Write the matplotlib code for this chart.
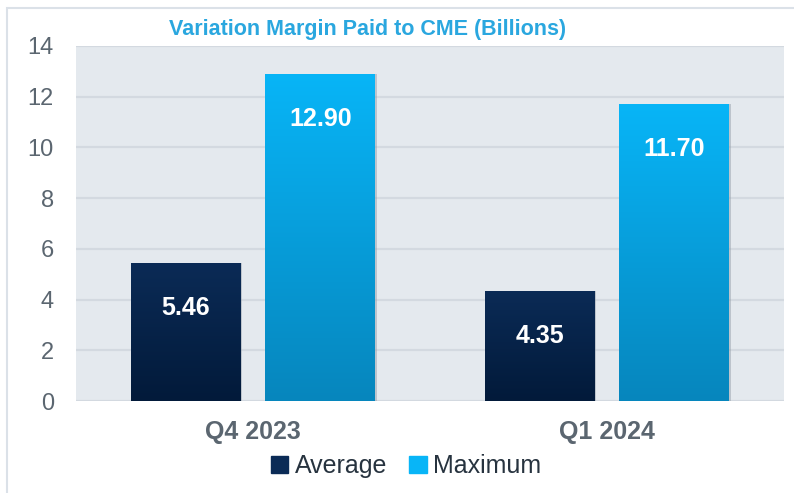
import matplotlib.pyplot as plt
import numpy as np
from matplotlib.colors import LinearSegmentedColormap
from matplotlib.patches import Rectangle

plt.rcParams["font.family"] = ["Liberation Sans", "DejaVu Sans"]

quarters = ["Q4 2023", "Q1 2024"]
series_names = ["Average", "Maximum"]
average = [5.46, 4.35]
maximum = [12.90, 11.70]
y_ticks = [0, 2, 4, 6, 8, 10, 12, 14]

# gradient colours (top -> bottom)
NAVY = ("#0b2b56", "#021a3a")
BLUE = ("#08b5f7", "#0686bd")
GREY = "#5b6670"

fig = plt.figure(figsize=(7.94, 4.93), dpi=100)
ax = fig.add_axes([0.0957, 0.1866, 0.8917, 0.7201])
ax.set_facecolor("#e4e9ee")

x = np.arange(len(quarters))
width = 0.31
offset = 0.19

ax.set_xlim(-0.5, 1.5)
ax.set_ylim(0, 14)


def gradient_bars(xs, vals, colors, label):
    bars = ax.bar(xs, vals, width, color=colors[0], label=label, linewidth=0, zorder=3)
    cmap = LinearSegmentedColormap.from_list("g", [colors[1], colors[0]])
    grad = np.linspace(0, 1, 256).reshape(-1, 1)
    for bar in bars:
        bx, by = bar.get_x(), bar.get_y()
        bw, bh = bar.get_width(), bar.get_height()
        # soft shadow
        sh = Rectangle((bx + 0.005, by), bw, bh, facecolor="#8f99a3", alpha=0.45,
                       edgecolor="none", zorder=2)
        ax.add_patch(sh)
        im = ax.imshow(grad, extent=[bx, bx + bw, by, by + bh], origin="lower",
                       cmap=cmap, aspect="auto", zorder=4)
        im.set_clip_path(bar)
        bar.set_facecolor("none")
    return bars


b_avg = gradient_bars(x - offset, average, NAVY, series_names[0])
b_max = gradient_bars(x + offset, maximum, BLUE, series_names[1])

for bars, vals in [(b_avg, average), (b_max, maximum)]:
    for bar, v in zip(bars, vals):
        ax.annotate(f"{v:.2f}", (bar.get_x() + bar.get_width() / 2, v),
                    xytext=(0, -45), textcoords="offset pixels",
                    ha="center", va="center", color="white",
                    fontsize=18, fontweight="bold", zorder=6)

ax.set_xlim(-0.5, 1.5)
ax.set_ylim(0, 14)
ax.set_yticks(y_ticks)
ax.set_yticklabels([str(t) for t in y_ticks], fontsize=17, color=GREY)
ax.set_xticks(x)
ax.set_xticklabels(quarters, fontsize=18, fontweight="bold", color=GREY)
ax.tick_params(axis="both", length=0)
ax.tick_params(axis="y", pad=16)
ax.tick_params(axis="x", pad=14)
ax.grid(axis="y", color="#d3d9e0", linewidth=1.6, zorder=1)
ax.set_axisbelow(True)
for s in ax.spines.values():
    s.set_visible(False)

fig.text(368 / 794, 1 - 30 / 493, "Variation Margin Paid to CME (Billions)",
         ha="center", va="center", fontsize=15.5, fontweight="bold", color="#2aa7df")

handles = [Rectangle((0, 0), 1, 1, color=NAVY[0]), Rectangle((0, 0), 1, 1, color=BLUE[0])]
leg = fig.legend(handles, series_names, loc="center", bbox_to_anchor=(406 / 794, 1 - 466 / 493),
                 ncol=2, frameon=False, fontsize=18, handlelength=0.7, handleheight=0.7,
                 handletextpad=0.25, columnspacing=0.9)
for t in leg.get_texts():
    t.set_color("#27333f")

# outer chart border
fig.add_artist(Rectangle((7 / 794, -0.01), 1.0, 1 - 8 / 493 + 0.01, transform=fig.transFigure,
                         facecolor="none", edgecolor="#dbe1e8", linewidth=1.5))

fig.savefig("out.png", dpi=100)
